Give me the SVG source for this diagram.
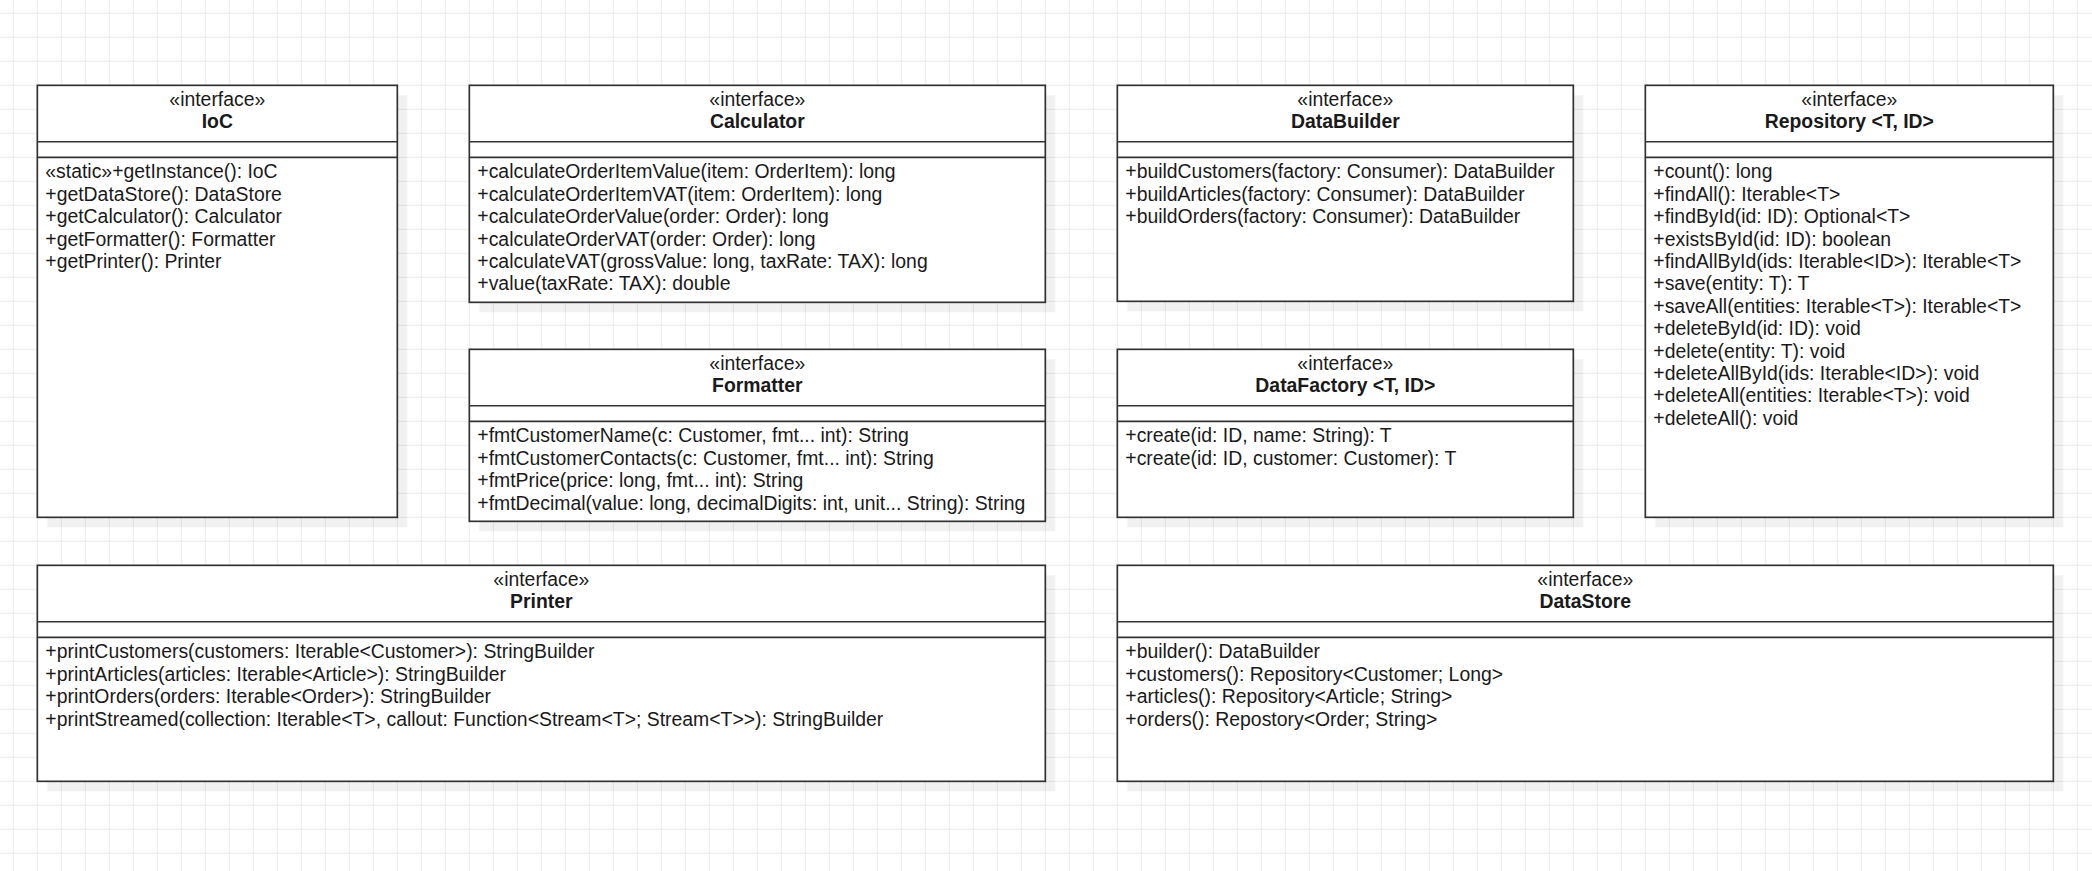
<svg xmlns="http://www.w3.org/2000/svg" width="2092" height="871" viewBox="0 0 2092 871">
<style>
.box{fill:#ffffff;stroke:#333333;stroke-width:1.7}
.sep{stroke:#333333;stroke-width:1.7}
.shadow{fill:#000000;fill-opacity:0.055}
text{font-family:"Liberation Sans",Arial,sans-serif;font-size:19.4px;fill:#1a1a1a}
.st{text-anchor:middle}
.nm{text-anchor:middle;font-weight:bold}
</style>
<defs>
<pattern id="grid" patternUnits="userSpaceOnUse" x="12.83" y="12.83" width="24" height="24">
<path d="M0.5 0 V24 M0 0.5 H24" stroke="#ebebeb" stroke-width="1" fill="none"/>
</pattern>
</defs>
<rect x="0" y="0" width="2092" height="871" fill="#ffffff"/>
<rect x="0" y="0" width="2092" height="871" fill="url(#grid)"/>

<g id="connectors"></g>

<g id="IoC">
<rect class="shadow" x="47.33" y="95.33" width="360" height="432"/>
<rect class="box" x="37.33" y="85.33" width="360" height="432"/>
<line class="sep" x1="37.33" y1="141.73" x2="397.33" y2="141.73"/>
<line class="sep" x1="37.33" y1="157.33" x2="397.33" y2="157.33"/>
<text class="st" x="217.33" y="106">«interface»</text>
<text class="nm" x="217.33" y="128.3">IoC</text>
<text x="45.33" y="178.33">«static»+getInstance(): IoC</text>
<text x="45.33" y="200.73">+getDataStore(): DataStore</text>
<text x="45.33" y="223.13">+getCalculator(): Calculator</text>
<text x="45.33" y="245.53">+getFormatter(): Formatter</text>
<text x="45.33" y="267.93">+getPrinter(): Printer</text>
</g>

<g id="Calculator">
<rect class="shadow" x="479.33" y="95.33" width="576" height="217"/>
<rect class="box" x="469.33" y="85.33" width="576" height="217"/>
<line class="sep" x1="469.33" y1="141.73" x2="1045.33" y2="141.73"/>
<line class="sep" x1="469.33" y1="157.33" x2="1045.33" y2="157.33"/>
<text class="st" x="757.33" y="106">«interface»</text>
<text class="nm" x="757.33" y="128.3">Calculator</text>
<text x="477.33" y="178.33">+calculateOrderItemValue(item: OrderItem): long</text>
<text x="477.33" y="200.73">+calculateOrderItemVAT(item: OrderItem): long</text>
<text x="477.33" y="223.13">+calculateOrderValue(order: Order): long</text>
<text x="477.33" y="245.53">+calculateOrderVAT(order: Order): long</text>
<text x="477.33" y="267.93">+calculateVAT(grossValue: long, taxRate: TAX): long</text>
<text x="477.33" y="290.33">+value(taxRate: TAX): double</text>
</g>

<g id="Formatter">
<rect class="shadow" x="479.33" y="359.33" width="576" height="172"/>
<rect class="box" x="469.33" y="349.33" width="576" height="172"/>
<line class="sep" x1="469.33" y1="405.73" x2="1045.33" y2="405.73"/>
<line class="sep" x1="469.33" y1="421.33" x2="1045.33" y2="421.33"/>
<text class="st" x="757.33" y="370">«interface»</text>
<text class="nm" x="757.33" y="392.3">Formatter</text>
<text x="477.33" y="442.33">+fmtCustomerName(c: Customer, fmt... int): String</text>
<text x="477.33" y="464.73">+fmtCustomerContacts(c: Customer, fmt... int): String</text>
<text x="477.33" y="487.13">+fmtPrice(price: long, fmt... int): String</text>
<text x="477.33" y="509.53">+fmtDecimal(value: long, decimalDigits: int, unit... String): String</text>
</g>

<g id="DataBuilder">
<rect class="shadow" x="1127.33" y="95.33" width="456" height="216"/>
<rect class="box" x="1117.33" y="85.33" width="456" height="216"/>
<line class="sep" x1="1117.33" y1="141.73" x2="1573.33" y2="141.73"/>
<line class="sep" x1="1117.33" y1="157.33" x2="1573.33" y2="157.33"/>
<text class="st" x="1345.33" y="106">«interface»</text>
<text class="nm" x="1345.33" y="128.3">DataBuilder</text>
<text x="1125.33" y="178.33">+buildCustomers(factory: Consumer): DataBuilder</text>
<text x="1125.33" y="200.73">+buildArticles(factory: Consumer): DataBuilder</text>
<text x="1125.33" y="223.13">+buildOrders(factory: Consumer): DataBuilder</text>
</g>

<g id="DataFactory">
<rect class="shadow" x="1127.33" y="359.33" width="456" height="168"/>
<rect class="box" x="1117.33" y="349.33" width="456" height="168"/>
<line class="sep" x1="1117.33" y1="405.73" x2="1573.33" y2="405.73"/>
<line class="sep" x1="1117.33" y1="421.33" x2="1573.33" y2="421.33"/>
<text class="st" x="1345.33" y="370">«interface»</text>
<text class="nm" x="1345.33" y="392.3">DataFactory &lt;T, ID&gt;</text>
<text x="1125.33" y="442.33">+create(id: ID, name: String): T</text>
<text x="1125.33" y="464.73">+create(id: ID, customer: Customer): T</text>
</g>

<g id="Repository">
<rect class="shadow" x="1655.33" y="95.33" width="408" height="432"/>
<rect class="box" x="1645.33" y="85.33" width="408" height="432"/>
<line class="sep" x1="1645.33" y1="141.73" x2="2053.33" y2="141.73"/>
<line class="sep" x1="1645.33" y1="157.33" x2="2053.33" y2="157.33"/>
<text class="st" x="1849.33" y="106">«interface»</text>
<text class="nm" x="1849.33" y="128.3">Repository &lt;T, ID&gt;</text>
<text x="1653.33" y="178.33">+count(): long</text>
<text x="1653.33" y="200.73">+findAll(): Iterable&lt;T&gt;</text>
<text x="1653.33" y="223.13">+findById(id: ID): Optional&lt;T&gt;</text>
<text x="1653.33" y="245.53">+existsById(id: ID): boolean</text>
<text x="1653.33" y="267.93">+findAllById(ids: Iterable&lt;ID&gt;): Iterable&lt;T&gt;</text>
<text x="1653.33" y="290.33">+save(entity: T): T</text>
<text x="1653.33" y="312.73">+saveAll(entities: Iterable&lt;T&gt;): Iterable&lt;T&gt;</text>
<text x="1653.33" y="335.13">+deleteById(id: ID): void</text>
<text x="1653.33" y="357.53">+delete(entity: T): void</text>
<text x="1653.33" y="379.93">+deleteAllById(ids: Iterable&lt;ID&gt;): void</text>
<text x="1653.33" y="402.33">+deleteAll(entities: Iterable&lt;T&gt;): void</text>
<text x="1653.33" y="424.73">+deleteAll(): void</text>
</g>

<g id="Printer">
<rect class="shadow" x="47.33" y="575.33" width="1008" height="216"/>
<rect class="box" x="37.33" y="565.33" width="1008" height="216"/>
<line class="sep" x1="37.33" y1="621.73" x2="1045.33" y2="621.73"/>
<line class="sep" x1="37.33" y1="637.33" x2="1045.33" y2="637.33"/>
<text class="st" x="541.33" y="586">«interface»</text>
<text class="nm" x="541.33" y="608.3">Printer</text>
<text x="45.33" y="658.33">+printCustomers(customers: Iterable&lt;Customer&gt;): StringBuilder</text>
<text x="45.33" y="680.73">+printArticles(articles: Iterable&lt;Article&gt;): StringBuilder</text>
<text x="45.33" y="703.13">+printOrders(orders: Iterable&lt;Order&gt;): StringBuilder</text>
<text x="45.33" y="725.53">+printStreamed(collection: Iterable&lt;T&gt;, callout: Function&lt;Stream&lt;T&gt;; Stream&lt;T&gt;&gt;): StringBuilder</text>
</g>

<g id="DataStore">
<rect class="shadow" x="1127.33" y="575.33" width="936" height="216"/>
<rect class="box" x="1117.33" y="565.33" width="936" height="216"/>
<line class="sep" x1="1117.33" y1="621.73" x2="2053.33" y2="621.73"/>
<line class="sep" x1="1117.33" y1="637.33" x2="2053.33" y2="637.33"/>
<text class="st" x="1585.33" y="586">«interface»</text>
<text class="nm" x="1585.33" y="608.3">DataStore</text>
<text x="1125.33" y="658.33">+builder(): DataBuilder</text>
<text x="1125.33" y="680.73">+customers(): Repository&lt;Customer; Long&gt;</text>
<text x="1125.33" y="703.13">+articles(): Repository&lt;Article; String&gt;</text>
<text x="1125.33" y="725.53">+orders(): Repostory&lt;Order; String&gt;</text>
</g>
</svg>
